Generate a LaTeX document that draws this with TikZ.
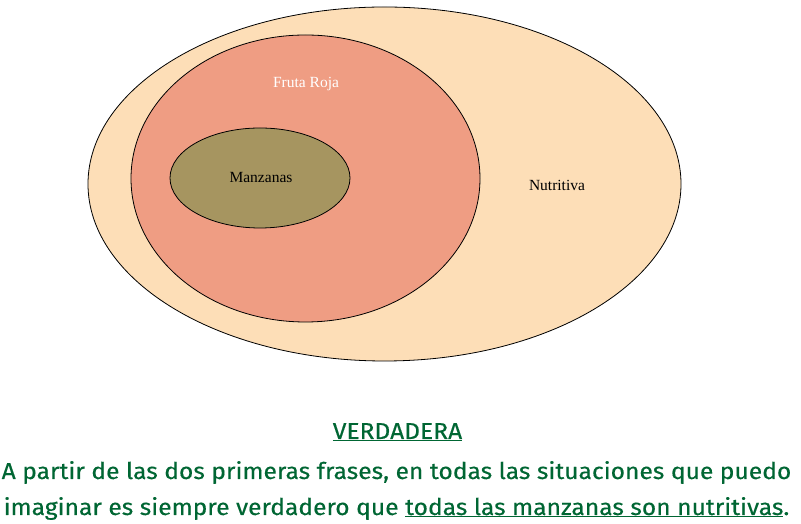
\documentclass[tikz,border=0pt]{standalone}
\usepackage{fontspec}
\setmainfont{Liberation Serif}
\newfontfamily\txtfont[FakeStretch=1.07,FakeBold=0.3]{Fira Sans}
\definecolor{outerfill}{RGB}{253,222,183}
\definecolor{redfill}{RGB}{239,157,131}
\definecolor{olivefill}{RGB}{166,149,96}
\definecolor{txtgreen}{RGB}{0,102,51}
\begin{document}
\begin{tikzpicture}[x=1pt,y=1pt,
  setshape/.style={draw=black,line width=0.8pt},
  label/.style={font=\fontsize{15.5}{18}\selectfont,inner sep=0pt},
  body/.style={font=\txtfont\fontsize{23}{27}\selectfont,text=txtgreen,inner sep=0pt,anchor=base}]
\useasboundingbox (0,0) rectangle (801,524);
\fill[white] (0,0) rectangle (801,524);
\draw[setshape,fill=outerfill] (384.5,340) ellipse [x radius=296.5,y radius=177];
\draw[setshape,fill=redfill] (305.5,345.5) ellipse [x radius=174.5,y radius=143.5];
\draw[setshape,fill=olivefill] (260,346) ellipse [x radius=90,y radius=50];
\node[label,text=white] (fr) at (306,440) {Fruta Roja};
\node[label] (mz) at (261,346) {Manzanas};
\node[label] (nu) at (557,339) {Nutritiva};
\node[body] (v) at (397.5,85) {\underline{VERDADERA}};
\node[body] (l1) at (396.5,45) {A partir de las dos primeras frases, en todas las situaciones que puedo};
\node[body] (l2) at (396.5,9) {imaginar es siempre verdadero que \underline{todas las manzanas son nutritivas}.};
\end{tikzpicture}
\end{document}
